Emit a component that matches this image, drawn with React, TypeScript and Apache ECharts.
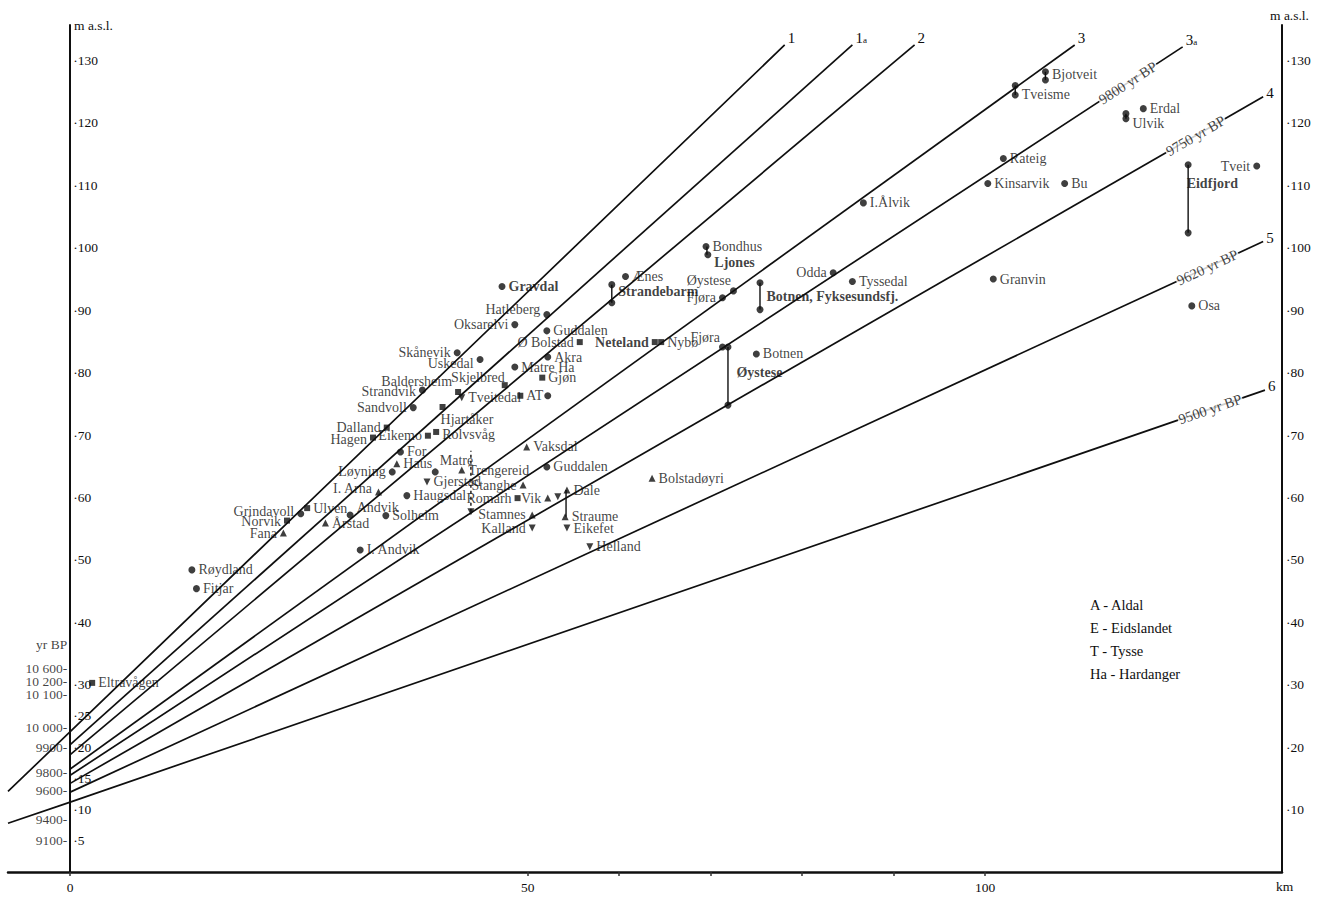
import React, { useEffect, useRef } from "react";
import * as echarts from "echarts";

const FONT = "'Liberation Serif', 'DejaVu Serif', serif";
const INK = "#0f0f0f";

// Axes
const xTickKm = [0, 50, 60, 70, 80, 90, 100];
const xLabelKm = [0, 50, 100];
const leftTickM = [5, 10, 15, 20, 25, 30, 40, 50, 60, 70, 80, 90, 100, 110, 120, 130];
const rightTickM = [10, 20, 30, 40, 50, 60, 70, 80, 90, 100, 110, 120, 130];

// yr BP scale along the left axis
const yrBpText = ["yr BP", "10 600", "10 200", "10 100", "10 000", "9900", "9800", "9600", "9400", "9100"];
const yrBpM = [36.4, 32.6, 30.6, 28.5, 23.2, 20.0, 16.0, 13.1, 8.4, 5.1];

// Shore lines (start at km 0)
const shoreNames = ["1", "1a", "2", "3", "3a", "4", "5", "6"];
const shoreStartM = [22.5, 20.4, 18.8, 16.5, 15.5, 14.2, 12.8, 11.2];
const shoreEndKm = [78.1, 85.5, 92.3, 109.8, 121.6, 130.4, 130.4, 130.6];
const shoreEndM = [132.5, 132.5, 132.5, 132.5, 132.2, 124.2, 101.0, 77.2];
// continuation of two lines west of the axis
const extLineNames = ["1", "6"];
const extStartKm = [-6.8, -6.8];
const extStartM = [12.9, 7.8];

// Dates written along the lines
const dateText = ["9800 yr BP", "9750 yr BP", "9620 yr BP", "9500 yr BP"];
const dateLine = ["3a", "4", "5", "6"];
const dateKm = [115.6, 123.0, 124.3, 124.6];

// Sites
const siteNames = [
  "Eltravågen", "Røydland", "Fitjar", "Grindavoll", "Ulven", "Norvik", "Fana", "Årstad", "Andvik", "I. Arna",
  "Solheim", "I. Andvik", "Haugsdal", "Løyning", "Haus", "For", "Hagen", "Dalland", "Eikemo", "Rolvsvåg",
  "Matre", "Gjerstad", "Hjartåker", "Sandvoll", "Strandvik", "Baldersheim", "Tveitedal", "AT", "Skjelbred", "Uskedal",
  "Skånevik", "Oksarelvi", "Hatleberg", "Gravdal", "Guddalen", "Ø Bolstad", "Akra", "Matre Ha", "Gjøn", "",
  "Vaksdal", "Guddalen#low", "Trengereid", "Stanghe", "Romarh", "Vik", "Dale", "", "Straume", "Eikefet",
  "Stamnes", "Kalland", "Helland", "", "Bolstadøyri", "Ænes", "Strandebarm", "", "Neteland", "Nybø",
  "Fjøra#low", "Øystese#low", "", "Botnen", "Bondhus", "Ljones", "Øystese", "Fjøra", "Botnen, Fyksesundsfj.", "",
  "Odda", "Tyssedal", "I.Ålvik", "", "Tveisme", "Bjotveit", "", "Rateig", "Kinsarvik", "Bu",
  "Granvin", "Erdal", "", "Ulvik", "Eidfjord", "", "Tveit", "Osa",
];
const siteKm = [
  2.4, 13.3, 13.8, 25.2, 25.9, 23.7, 23.3, 27.9, 30.6, 33.7,
  34.5, 31.7, 36.8, 35.2, 35.7, 36.1, 33.1, 34.6, 39.1, 40.0,
  39.9, 39.0, 40.7, 37.5, 38.5, 42.4, 42.8, 49.2, 47.5, 44.8,
  42.3, 48.6, 52.1, 47.2, 52.1, 55.7, 52.2, 48.6, 51.6, 52.2,
  49.9, 52.1, 42.8, 49.5, 48.9, 52.2, 54.3, 53.3, 54.1, 54.3,
  50.5, 50.5, 56.8, 43.8, 63.6, 60.7, 59.2, 59.2, 63.9, 64.6,
  71.3, 71.9, 71.9, 75.0, 69.5, 69.7, 72.5, 71.3, 75.4, 75.4,
  83.4, 85.5, 86.7, 103.3, 103.3, 106.6, 106.6, 102.0, 100.3, 108.7,
  100.9, 117.3, 115.4, 115.4, 122.2, 122.2, 129.7, 122.6,
];
const siteM = [
  30.3, 48.4, 45.4, 57.4, 58.3, 56.3, 54.3, 55.9, 57.2, 60.9,
  57.1, 51.6, 60.3, 64.1, 65.4, 67.3, 69.6, 71.2, 69.9, 70.5,
  64.1, 62.5, 74.5, 74.4, 77.2, 76.9, 76.0, 76.3, 78.0, 82.1,
  83.2, 87.7, 89.3, 93.8, 86.7, 84.9, 82.5, 80.9, 79.2, 76.3,
  68.1, 64.9, 64.4, 62.0, 59.9, 59.9, 61.2, 60.1, 56.9, 55.1,
  57.2, 55.1, 52.1, 57.7, 63.1, 95.4, 94.1, 91.2, 84.9, 84.9,
  84.1, 84.1, 74.8, 83.0, 100.2, 98.9, 93.1, 92.0, 94.4, 90.1,
  96.0, 94.6, 107.2, 126.0, 124.5, 128.2, 126.9, 114.3, 110.3, 110.3,
  95.0, 122.3, 121.5, 120.7, 113.3, 102.4, 113.1, 90.7,
];
// o = dot, s = square, t = triangle, v = inverted triangle
const siteMark = [
  "s", "o", "o", "o", "s", "s", "t", "t", "o", "t",
  "o", "o", "o", "o", "t", "o", "s", "s", "s", "s",
  "o", "v", "s", "o", "o", "s", "v", "s", "s", "o",
  "o", "o", "o", "o", "o", "s", "o", "o", "s", "o",
  "t", "o", "t", "t", "s", "t", "t", "v", "t", "v",
  "t", "v", "v", "v", "t", "o", "o", "o", "s", "s",
  "o", "o", "o", "o", "o", "o", "o", "o", "o", "o",
  "o", "o", "o", "o", "o", "o", "o", "o", "o", "o",
  "o", "o", "o", "o", "o", "o", "o", "o",
];

// Vertical ranges joining two levels at one site
const rangeKm = [59.2, 71.9, 75.4, 103.3, 106.6, 115.4, 122.2, 54.2, 43.8, 69.6];
const rangeLow = [91.2, 74.8, 90.1, 124.5, 126.9, 120.7, 102.4, 56.9, 57.7, 98.9];
const rangeHigh = [94.1, 84.1, 94.4, 126.0, 128.2, 121.5, 113.3, 61.2, 67.5, 100.2];
const rangeDashed = [0, 0, 0, 0, 0, 0, 0, 0, 1, 0];

const legendLines = ["A - Aldal", "E - Eidslandet", "T - Tysse", "Ha - Hardanger"];

// label placement (style only): side, dx, dy, bold
const labelStyle: Record<string, [string, number, number, boolean?]> = {
  Grindavoll: ["l", 0, -2],
  Norvik: ["l", 0, 1],
  Fana: ["l", 0, 0],
  Andvik: ["r", 0, -7],
  "I. Arna": ["l", 0, -3],
  Løyning: ["l", 0, 0],
  Hagen: ["l", 0, 2],
  Dalland: ["l", 0, 0],
  Eikemo: ["l", 0, 0],
  Rolvsvåg: ["r", 0, 3],
  Matre: ["r", -2, -11],
  Hjartåker: ["r", -8, 13],
  Sandvoll: ["l", 0, 0],
  Strandvik: ["l", 0, 1],
  Baldersheim: ["l", 0, -11],
  Skjelbred: ["l", 6, -8],
  Uskedal: ["l", 0, 4],
  Skånevik: ["l", 0, 0],
  Oksarelvi: ["l", 0, 0],
  Hatleberg: ["l", 0, -5],
  Gravdal: ["r", 0, 0, true],
  "Ø Bolstad": ["l", 0, 0],
  Stanghe: ["l", 0, 0],
  Romarh: ["l", 0, 0],
  Vik: ["l", 0, 0],
  Stamnes: ["l", 0, 0],
  Kalland: ["l", 0, 0],
  Strandebarm: ["r", 0, 7, true],
  Neteland: ["l", 0, 0, true],
  "Fjøra#low": ["l", 4, -10],
  "Øystese#low": ["r", 2, 25, true],
  Ljones: ["r", 0, 8, true],
  Øystese: ["l", 4, -10],
  Fjøra: ["l", 0, 0],
  "Botnen, Fyksesundsfj.": ["r", 0, 14, true],
  Odda: ["l", 0, 0],
  Bjotveit: ["r", 0, 3],
  Ulvik: ["r", 0, 5],
  Eidfjord: ["r", -8, 19, true],
  Tveit: ["l", 0, 0],
};

const invTri = "path://M0,0L10,0L5,9Z";
const markSymbol: Record<string, [string, number]> = {
  o: ["circle", 7],
  s: ["rect", 6],
  t: ["triangle", 7],
  v: [invTri, 7],
};

function lineM(name: string, km: number): number {
  const i = shoreNames.indexOf(name);
  return shoreStartM[i] + (km * (shoreEndM[i] - shoreStartM[i])) / shoreEndKm[i];
}

const X_MIN = -6.8;
const X_MAX = 132.46;
const GRID_LEFT = 8;
const GRID_RIGHT = 43;

export default function App() {
  const ref = useRef<HTMLDivElement>(null);

  useEffect(() => {
    if (!ref.current) return;
    const chart = echarts.init(ref.current, undefined, { renderer: "svg" });

    const textBase = { fontFamily: FONT, fontSize: 14, color: INK };
    const axisText = { fontFamily: FONT, fontSize: 13.5, color: INK };

    // pixel distance of km 0 from the grid's left edge
    const gridWidth = 1325 - GRID_LEFT - GRID_RIGHT;
    const zeroOffset = ((0 - X_MIN) / (X_MAX - X_MIN)) * gridWidth;

    const lineSeries = shoreNames.map((name, i) => {
      const e = extLineNames.indexOf(name);
      const pts: number[][] = [];
      if (e >= 0) pts.push([extStartKm[e], extStartM[e]]);
      pts.push([0, shoreStartM[i]]);
      pts.push([shoreEndKm[i], shoreEndM[i]]);
      const low = i >= 5;
      return {
        type: "line",
        name: "line " + name,
        data: pts,
        symbol: "none",
        z: 2,
        lineStyle: { color: INK, width: 1.7 },
        endLabel: {
          show: true,
          formatter: name.length > 1 ? name[0] + "{s|" + name.slice(1) + "}" : name,
          offset: [0, low ? -4 : -7],
          distance: 3,
          fontFamily: FONT,
          fontSize: 15,
          color: INK,
          rich: { s: { fontFamily: FONT, fontSize: 9, color: INK, padding: [5, 0, 0, 0] } },
        },
      };
    });

    const siteData = siteNames.map((key, i) => {
      const [sym, size] = markSymbol[siteMark[i]];
      const st = labelStyle[key] || ["r", 0, 0];
      const display = key.split("#")[0];
      return {
        name: display,
        value: [siteKm[i], siteM[i]],
        symbol: sym,
        symbolSize: size,
        label: {
          show: display !== "",
          position: st[0] === "l" ? "left" : "right",
          offset: [st[1], st[2]],
          fontWeight: st[3] ? "bold" : "normal",
        },
      };
    });

    const rangeData = rangeKm.map((km, i) => [km, rangeLow[i], rangeHigh[i], rangeDashed[i]]);

    const dateRot = [33, 30, 25, 19];
    const dateData = dateText.map((t, i) => ({
      name: t,
      value: [dateKm[i], lineM(dateLine[i], dateKm[i])],
      label: { rotate: dateRot[i] },
    }));

    const yrData = yrBpText.map((t, i) => ({ name: t, value: [0, yrBpM[i]] }));

    chart.setOption({
      animation: false,
      backgroundColor: "#ffffff",
      grid: { left: GRID_LEFT, right: GRID_RIGHT, top: 25, bottom: 25, containLabel: false, outerBoundsMode: "none" },
      xAxis: {
        type: "value",
        min: X_MIN,
        max: X_MAX,
        axisLine: { show: true, onZero: false, lineStyle: { color: INK, width: 2.5 } },
        axisTick: { show: true, customValues: xTickKm, length: 4, lineStyle: { color: "#333", width: 1.5 } },
        axisLabel: { customValues: xLabelKm, margin: 8, ...axisText },
        splitLine: { show: false },
      },
      yAxis: [
        {
          type: "value",
          position: "left",
          offset: -zeroOffset,
          min: 0,
          max: 135.7,
          axisLine: { show: true, onZero: false, lineStyle: { color: INK, width: 2 } },
          axisTick: { show: false },
          axisLabel: { inside: true, customValues: leftTickM, formatter: (v: number) => "·" + v, margin: 3, ...axisText },
          splitLine: { show: false },
        },
        {
          type: "value",
          position: "right",
          min: 0,
          max: 135.7,
          axisLine: { show: true, onZero: false, lineStyle: { color: INK, width: 2 } },
          axisTick: { show: false },
          axisLabel: { customValues: rightTickM, formatter: (v: number) => "·" + v, margin: 4, ...axisText },
          splitLine: { show: false },
        },
      ],
      series: [
        ...lineSeries,
        {
          type: "custom",
          name: "ranges",
          z: 3,
          data: rangeData,
          encode: { x: 0, y: [1, 2] },
          renderItem: (_p: any, api: any) => {
            const a = api.coord([api.value(0), api.value(1)]);
            const b = api.coord([api.value(0), api.value(2)]);
            return {
              type: "line",
              shape: { x1: a[0], y1: a[1], x2: b[0], y2: b[1] },
              style: { stroke: INK, lineWidth: 1.4, lineDash: api.value(3) ? [3, 3] : null },
            };
          },
        },
        {
          type: "scatter",
          name: "sites",
          z: 4,
          data: siteData,
          itemStyle: { color: INK },
          label: { show: true, formatter: "{b}", distance: 3, ...textBase },
        },
        {
          type: "scatter",
          name: "dates",
          z: 5,
          data: dateData,
          symbolSize: 0,
          label: {
            show: true,
            position: "inside",
            formatter: "{b}",
            backgroundColor: "#ffffff",
            padding: [0, 1],
            ...textBase,
            fontSize: 14.5,
          },
        },
        {
          type: "scatter",
          name: "yrbp",
          z: 5,
          data: yrData,
          symbolSize: 0,
          label: {
            show: true,
            position: "left",
            distance: 3,
            formatter: (p: any) => (p.name === "yr BP" ? p.name : p.name + "-"),
            ...axisText,
          },
        },
      ],
      graphic: [
        { type: "text", left: 74, top: 18, style: { text: "m a.s.l.", fontFamily: FONT, fontSize: 13.5, fill: INK } },
        { type: "text", left: 1270, top: 8, style: { text: "m a.s.l.", fontFamily: FONT, fontSize: 13.5, fill: INK } },
        { type: "text", left: 1276, top: 879, style: { text: "km", fontFamily: FONT, fontSize: 13.5, fill: INK } },
        ...legendLines.map((t, i) => ({
          type: "text",
          left: 1090,
          top: 597 + i * 23,
          style: { text: t, fontFamily: FONT, fontSize: 14.5, fill: INK },
        })),
      ],
    });

    return () => chart.dispose();
  }, []);

  return (
    <div
      ref={ref}
      style={{ position: "absolute", left: 0, top: 0, width: 1325, height: 897, background: "#fff" }}
    />
  );
}
